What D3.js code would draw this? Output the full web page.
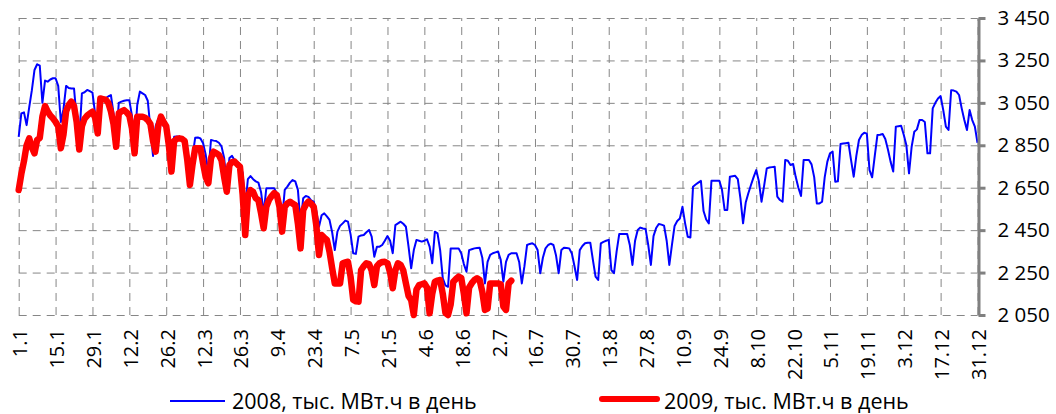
<!DOCTYPE html>
<html>
<head>
<meta charset="utf-8">
<script src="https://cdn.jsdelivr.net/npm/d3@7"></script>
<style>
    body { margin: 0; background: #fff; }
    svg { display: block; font-family: "Open Sans", "Liberation Sans", sans-serif; }
</style>
</head>
<body>
<div id="chart"></div>
<script>
// daily consumption, one row = one week
const consumption2008 = [
    2890, 3000, 3005, 2945, 3030, 3110, 3205,
    3232, 3225, 3050, 3155, 3150, 3160, 3166,
    3166, 3130, 2960, 3020, 3130, 3120, 3118,
    3118, 2975, 2880, 3095, 3100, 3111, 3105,
    3098, 3000, 2900, 3070, 3071, 3071, 3080,
    3087, 3000, 2880, 3050, 3056, 3060, 3062,
    3062, 2990, 2860, 3040, 3103, 3095, 3087,
    3060, 2930, 2800, 2940, 2975, 2970, 2940,
    2930, 2880, 2800, 2890, 2892, 2890, 2885,
    2870, 2830, 2740, 2800, 2885, 2887, 2882,
    2860, 2805, 2720, 2875, 2872, 2870, 2862,
    2845, 2790, 2660, 2790, 2800, 2778, 2772,
    2760, 2720, 2560, 2690, 2705, 2690, 2680,
    2674, 2630, 2530, 2647, 2647, 2647, 2647,
    2624, 2580, 2500, 2640, 2655, 2674, 2686,
    2680, 2640, 2480, 2600, 2611, 2607, 2590,
    2584, 2540, 2466, 2520, 2529, 2515, 2498,
    2440, 2356, 2443, 2470, 2482, 2495, 2490,
    2430, 2341, 2338, 2419, 2425, 2427, 2440,
    2451, 2420, 2325, 2372, 2372, 2380, 2400,
    2422, 2400, 2341, 2474, 2482, 2490, 2480,
    2466, 2372, 2270, 2356, 2404, 2400, 2396,
    2400, 2407, 2372, 2294, 2443, 2435, 2356,
    2223, 2190, 2183, 2364, 2364, 2364, 2364,
    2341, 2290, 2254, 2356, 2360, 2364, 2366,
    2367, 2320, 2199, 2300, 2333, 2341, 2345,
    2349, 2310, 2207, 2300, 2333, 2341, 2341,
    2341, 2300, 2199, 2280, 2380, 2385, 2388,
    2380, 2356, 2247, 2320, 2364, 2380, 2386,
    2380, 2330, 2247, 2356, 2367, 2366, 2364,
    2340, 2280, 2215, 2356, 2375, 2388, 2391,
    2391, 2309, 2231, 2215, 2388, 2395, 2400,
    2404, 2262, 2247, 2350, 2432, 2432, 2432,
    2432, 2380, 2286, 2400, 2451, 2462, 2458,
    2455, 2380, 2286, 2422, 2460, 2479, 2476,
    2471, 2400, 2286, 2380, 2470, 2493, 2505,
    2560, 2482, 2419, 2415, 2655, 2665, 2674,
    2682, 2540, 2500, 2482, 2683, 2683, 2683,
    2683, 2640, 2545, 2545, 2702, 2704, 2706,
    2690, 2600, 2482, 2580, 2624, 2663, 2700,
    2733, 2680, 2584, 2660, 2741, 2745, 2747,
    2749, 2608, 2592, 2584, 2781, 2777, 2757,
    2762, 2700, 2650, 2611, 2781, 2781, 2781,
    2760, 2700, 2576, 2576, 2584, 2700, 2773,
    2812, 2820, 2678, 2680, 2856, 2858, 2860,
    2862, 2780, 2702, 2800, 2875, 2898, 2909,
    2905, 2733, 2699, 2800, 2898, 2900, 2903,
    2880, 2830, 2773, 2726, 2938, 2940, 2942,
    2900, 2850, 2718, 2843, 2914, 2925, 2969,
    2969, 2960, 2812, 2812, 3024, 3050, 3071,
    3082, 3016, 2938, 2922, 3110, 3108, 3103,
    3087, 3024, 2969, 2922, 3016, 2969, 2938,
    2862,
];

const consumption2009 = [
    2639, 2715, 2775, 2850, 2883, 2840, 2812,
    2875, 2885, 2985, 3035, 3010, 2990, 2977,
    2960, 2940, 2836, 2900, 3010, 3040, 3056,
    3035, 2960, 2830, 2940, 2975, 2990, 3000,
    3008, 2980, 2906, 3071, 3068, 3065, 3050,
    3010, 2950, 2843, 3001, 3010, 3016, 3005,
    2990, 2930, 2812, 2985, 2985, 2985, 2980,
    2969, 2950, 2870, 2820, 2940, 2985, 2960,
    2940, 2850, 2726, 2870, 2880, 2883, 2880,
    2870, 2780, 2663, 2760, 2836, 2836, 2836,
    2765, 2700, 2671, 2789, 2820, 2812, 2804,
    2780, 2700, 2631, 2757, 2770, 2773, 2760,
    2749, 2620, 2427, 2608, 2639, 2630, 2600,
    2592, 2530, 2459, 2560, 2592, 2610, 2624,
    2615, 2560, 2443, 2560, 2576, 2584, 2575,
    2568, 2480, 2364, 2545, 2570, 2584, 2575,
    2560, 2470, 2333, 2427, 2415, 2404, 2348,
    2270, 2199, 2199, 2199, 2294, 2298, 2301,
    2230, 2121, 2115, 2113, 2262, 2280, 2294,
    2290, 2260, 2191, 2280, 2294, 2300, 2301,
    2294, 2250, 2176, 2260, 2294, 2286, 2260,
    2199, 2140, 2121, 2050, 2170, 2191, 2195,
    2199, 2180, 2058, 2150, 2207, 2212, 2215,
    2150, 2060, 2050, 2100, 2207, 2220, 2231,
    2225, 2150, 2058, 2180, 2200, 2215, 2223,
    2215, 2160, 2074, 2080, 2199, 2199, 2199,
    2199, 2195, 2090, 2074, 2199, 2212,
];

// one label every 14 days
const tickLabels = ['1.1', '15.1', '29.1', '12.2', '26.2', '12.3', '26.3', '9.4', '23.4',
    '7.5', '21.5', '4.6', '18.6', '2.7', '16.7', '30.7', '13.8', '27.8', '10.9', '24.9',
    '8.10', '22.10', '5.11', '19.11', '3.12', '17.12', '31.12'];
const yTicks = [2050, 2250, 2450, 2650, 2850, 3050, 3250, 3450];
const seriesNames = ['2008, тыс. МВт.ч в день', '2009, тыс. МВт.ч в день'];
const colors = ['#0000ff', '#ff0000'];

const width = 1056;
const height = 414;
const plot = { left: 18.7, right: 977.5, top: 18, bottom: 315 };

const svg = d3.select('#chart')
    .append('svg')
    .attr('width', width)
    .attr('height', height);

svg.append('rect')
    .attr('width', width)
    .attr('height', height)
    .attr('fill', '#fff');

const dayCount = 365;
const xScale = d3.scaleLinear()
    .domain([0, dayCount - 1])
    .range([plot.left, plot.right]);

const yScale = d3.scaleLinear()
    .domain([yTicks[0], yTicks[yTicks.length - 1]])
    .range([plot.bottom, plot.top]);

const tickDays = tickLabels.map((d, i) => i * 14);

// Grid
const gridH = svg.append('g')
    .attr('transform', `translate(${plot.left},0)`)
    .call(d3.axisLeft(yScale)
        .tickValues(yTicks)
        .tickSize(-(plot.right - plot.left))
        .tickFormat(''));

const gridV = svg.append('g')
    .attr('transform', `translate(0,${plot.bottom})`)
    .call(d3.axisBottom(xScale)
        .tickValues(tickDays)
        .tickSize(-(plot.bottom - plot.top))
        .tickFormat(''));

[gridH, gridV].forEach((g) => {
    g.select('.domain').remove();
    g.selectAll('line')
        .attr('stroke', '#868686')
        .attr('stroke-width', 1)
        .attr('stroke-dasharray', '8,6');
});

// Lines
const lineFunction = d3.line()
    .x((d, i) => xScale(i))
    .y((d) => yScale(d));

svg.append('path')
    .attr('d', lineFunction(consumption2008))
    .attr('fill', 'none')
    .attr('stroke', colors[0])
    .attr('stroke-width', 2)
    .attr('stroke-linejoin', 'round');

svg.append('path')
    .attr('d', lineFunction(consumption2009))
    .attr('fill', 'none')
    .attr('stroke', colors[1])
    .attr('stroke-width', 6.5)
    .attr('stroke-linejoin', 'round')
    .attr('stroke-linecap', 'round');

// Right axis
const spaceFormat = d3.formatLocale({ decimal: ',', thousands: ' ', grouping: [3], currency: ['', ''] }).format(',');

const yAxis = svg.append('g')
    .attr('transform', `translate(${plot.right + 1},0)`)
    .call(d3.axisRight(yScale)
        .tickValues(yTicks)
        .tickSizeInner(7)
        .tickSizeOuter(0)
        .tickPadding(12)
        .tickFormat(spaceFormat));

yAxis.select('.domain')
    .attr('stroke', '#808080')
    .attr('stroke-width', 3);
yAxis.selectAll('line')
    .attr('stroke', '#808080')
    .attr('stroke-width', 3);
yAxis.selectAll('text')
    .attr('fill', '#000')
    .style('font-size', '20.5px')
    .style('font-family', '"Open Sans", sans-serif');

// X labels, rotated
svg.append('g')
    .selectAll('text')
    .data(tickDays)
    .join('text')
    .attr('transform', (d) => `translate(${xScale(d) + 1},329) rotate(-90)`)
    .attr('text-anchor', 'end')
    .attr('dominant-baseline', 'central')
    .attr('fill', '#000')
    .style('font-size', '20px')
    .text((d, i) => tickLabels[i]);

// Legend
const legendItems = [
    { x1: 170, x2: 225, y: 401, w: 2, cap: 'butt', tx: 232 },
    { x1: 602, x2: 657, y: 399, w: 6, cap: 'round', tx: 664 },
];

legendItems.forEach((item, i) => {
    svg.append('line')
        .attr('x1', item.x1)
        .attr('x2', item.x2)
        .attr('y1', item.y)
        .attr('y2', item.y)
        .attr('stroke', colors[i])
        .attr('stroke-width', item.w)
        .attr('stroke-linecap', item.cap);

    svg.append('text')
        .attr('x', item.tx)
        .attr('y', 409)
        .attr('fill', '#000')
        .style('font-size', '21.5px')
        .text(seriesNames[i]);
});
</script>
</body>
</html>
